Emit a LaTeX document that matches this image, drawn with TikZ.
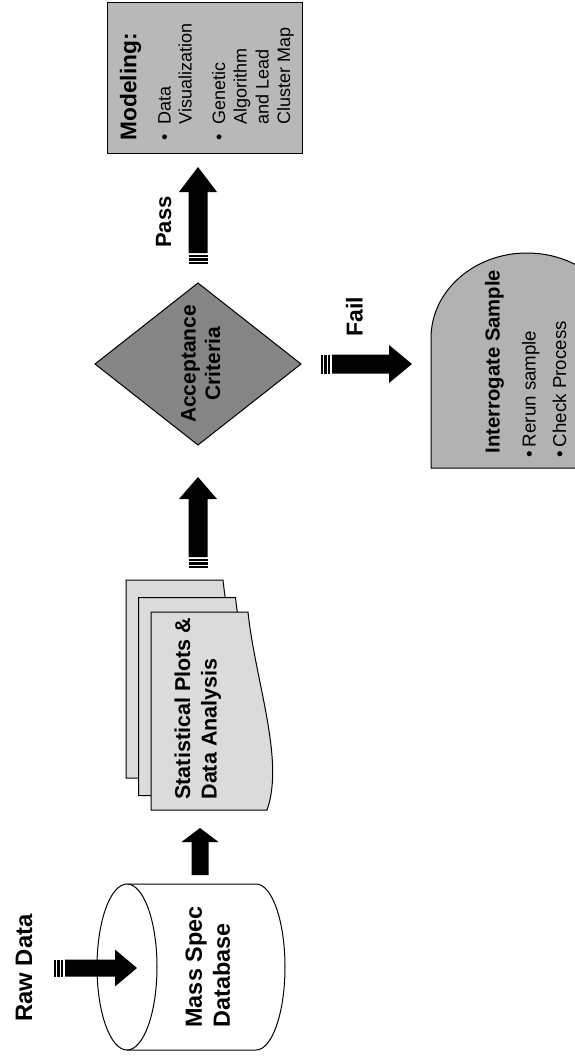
\documentclass[tikz,border=0pt]{standalone}
\usepackage{fontspec}
\setmainfont{Liberation Sans}
\usetikzlibrary{calc}
\definecolor{docfill}{gray}{0.86}
\definecolor{diafill}{gray}{0.52}
\definecolor{modfill}{gray}{0.72}
\definecolor{intfill}{gray}{0.70}
% block arrow: #1 tail, #2 tip, #3 shaft half width, #4 head half width, #5 head length
\newcommand\blockarr[5]{%
  \coordinate (hb) at ($(#2)!#5pt!(#1)$);
  \fill[black] ($(#1)!#3pt!90:(hb)$) -- ($(hb)!#3pt!-90:(#1)$) -- ($(hb)!#4pt!-90:(#1)$)
    -- (#2) -- ($(hb)!#4pt!90:(#1)$) -- ($(hb)!#3pt!90:(#1)$) -- ($(#1)!#3pt!-90:(hb)$) -- cycle;
}
% striped tail: #1 tail, #2 tip, #3 shaft half width
\newcommand\tailbars[3]{%
  \foreach \dd in {2.7pt,6.5pt,10.3pt}{%
    \coordinate (st) at ($(#1)!-\dd!(#2)$);
    \draw[black,line width=2.2pt] ($(st)!#3pt!90:(#2)$) -- ($(st)!#3pt!-90:(#2)$);
  }%
}
\begin{document}
\begin{tikzpicture}[x=1pt,y=-1pt,
  lbl/.style={rotate=90,inner sep=0pt,outer sep=0pt,text=black},
  shapeline/.style={draw=black,line width=1pt},
  bold/.style={lbl,font=\fontsize{#1pt}{#1pt}\selectfont\bfseries},
  reg/.style={lbl,font=\fontsize{#1pt}{#1pt}\selectfont},
]
\useasboundingbox (0,0) rectangle (575,1057);
\fill[white] (0,0) rectangle (575,1057);

% ---------- Mass Spec Database cylinder ----------
\filldraw[shapeline,fill=white] (127,884) -- (256,884)
   arc[start angle=-90,end angle=90,x radius=29,y radius=83] -- (127,1050) -- cycle;
\filldraw[shapeline,fill=white] (127,967) ellipse[x radius=30,y radius=83];

% ---------- stacked documents ----------
\filldraw[shapeline,fill=docfill] (126,580) -- (223,580) .. controls (230,648) and (260,728) .. (242,778) -- (126,778) -- cycle;
\filldraw[shapeline,fill=docfill] (138.5,597.5) -- (235.5,597.5) .. controls (242.5,665.5) and (272.5,745.5) .. (254.5,795.5) -- (138.5,795.5) -- cycle;
\filldraw[shapeline,fill=docfill] (151,612) -- (248,612) .. controls (255,680) and (285,760) .. (267,810) -- (151,810) -- cycle;

% ---------- Acceptance diamond ----------
\filldraw[shapeline,fill=diafill] (198,283) -- (301,364) -- (198,445) -- (95,364) -- cycle;

% ---------- Modeling box ----------
\node[draw=black,line width=1.4pt,fill=modfill,minimum width=195pt,minimum height=151pt,
      inner sep=0pt,anchor=north west] (modbox) at (107,2) {};

% ---------- Interrogate Sample shape ----------
\begin{scope}
\clip (0,0) rectangle (575,1057);
\filldraw[shapeline,fill=intfill] (623,468) -- (431,468) -- (431,338)
   arc[start angle=180,end angle=360,x radius=96,y radius=85] -- cycle;
\end{scope}

% ---------- arrows ----------
\coordinate (rawT) at (65,968);   \coordinate (rawH) at (137,968);
\coordinate (dbT) at (200,875);   \coordinate (dbH) at (200,828);
\coordinate (docT) at (198,557);  \coordinate (docH) at (198,477);
\coordinate (passT) at (198,253); \coordinate (passH) at (198,167);
\coordinate (failT) at (332,364); \coordinate (failH) at (412,364);

\blockarr{rawT}{rawH}{8.5}{18.5}{22}
\tailbars{rawT}{rawH}{8.5}
\blockarr{dbT}{dbH}{8.5}{18.5}{14}
\blockarr{docT}{docH}{9.5}{19}{22}
\tailbars{docT}{docH}{9.5}
\blockarr{passT}{passH}{9.5}{19}{25}
\tailbars{passT}{passH}{9.5}
\blockarr{failT}{failH}{9.5}{19}{23}
\tailbars{failT}{failH}{9.5}

% ---------- texts ----------
\node[bold=23.8,anchor=base] (rawtxt) at (32,968) {Raw Data};

\node[bold=23.4,anchor=base west] (db1) at (201.8,1027.5) {Mass Spec};
\node[bold=23.4,anchor=base west] (db2) at (229.8,1027.5) {Database};

\node[bold=21.5,anchor=base west] (doc1) at (190,799.5) {Statistical Plots \&};
\node[bold=21.5,anchor=base west] (doc2) at (216.5,799.5) {Data Analysis};

\node[bold=21,anchor=base] (acc1) at (195.5,364) {Acceptance};
\node[bold=21,anchor=base] (acc2) at (220,364) {Criteria};

\node[bold=22,anchor=base] (pass) at (171,222) {Pass};
\node[bold=23,anchor=base] (fail) at (362.5,317) {Fail};

\node[bold=20.2,anchor=base west] (int1) at (499.5,453) {Interrogate Sample};
\node[reg=18.7,anchor=base west] (intb1) at (535.5,457.5) {•};
\node[reg=18.7,anchor=base west] (int2) at (535.5,447) {Rerun sample};
\node[reg=18.7,anchor=base west] (intb2) at (566,457.5) {•};
\node[reg=18.7,anchor=base west] (int3) at (566,447) {Check Process};

\node[bold=22.7,anchor=base west] (mod1) at (136.3,140.5) {Modeling:};
\node[reg=18,anchor=base west] (modb1) at (170.5,140.5) {•};
\node[reg=18,anchor=base west] (mod2) at (170.5,124.5) {Data};
\node[reg=18,anchor=base west] (mod3) at (191.5,124.5) {Visualization};
\node[reg=18,anchor=base west] (modb2) at (225,140.5) {•};
\node[reg=18,anchor=base west] (mod4) at (225,124.5) {Genetic};
\node[reg=18,anchor=base west] (mod5) at (246.5,124.5) {Algorithm};
\node[reg=18,anchor=base west] (mod6) at (268.5,124.5) {and Lead};
\node[reg=18,anchor=base west] (mod7) at (290,124.5) {Cluster Map};
\end{tikzpicture}
\end{document}
